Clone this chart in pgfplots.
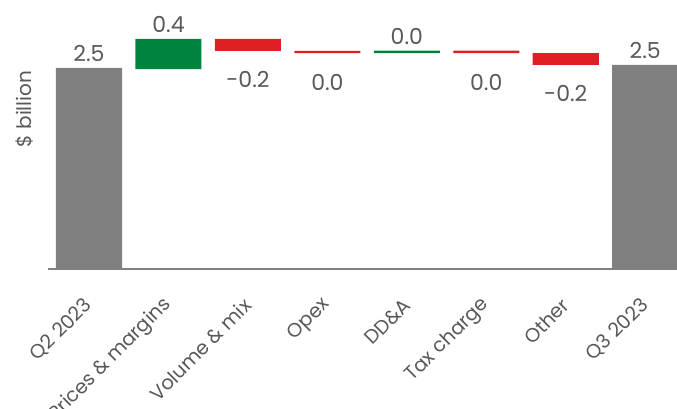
\documentclass[border=0pt]{standalone}
\usepackage{fontspec}
\setmainfont{Poppins}
\usepackage{pgfplots}
\pgfplotsset{compat=1.18}
\definecolor{barGray}{RGB}{128,128,128}
\definecolor{barGreen}{RGB}{0,132,61}
\definecolor{barRed}{RGB}{224,30,36}
\definecolor{txtGray}{RGB}{89,89,89}

\begin{document}
\begin{tikzpicture}
% 1pt = 1px of the reference picture
\path[use as bounding box] (-48pt,-139pt) rectangle (629pt,269pt);
\pgfplotsset{
    wfall/.style={
        scale only axis, width=629pt, height=269pt,
        xmin=-0.516, xmax=7.40,
        ymin=0, ymax=3.329,
    },
}
\begin{axis}[
    wfall,
    ybar stacked, bar width=0.831,
    axis x line=bottom, axis y line=none,
    axis line style={draw=barGray, line width=2pt, -},
    xtick={0,...,7},
    xticklabels={Q2 2023, Prices \& margins, Volume \& mix, Opex, DD\&A, Tax charge, Other, Q3 2023},
    major tick length=0pt,
    xticklabel style={yshift=-33pt, rotate=45, anchor=east, inner sep=0pt,
        font=\fontsize{19.5}{23}\selectfont, text=txtGray},
]
    % invisible base of each floating bar
    \addplot[fill=none, draw=none] coordinates
        {(0,0) (1,2.475) (2,2.698) (3,2.673) (4,2.673) (5,2.673) (6,2.525) (7,0)};
    % totals
    \addplot[fill=barGray, draw=none] coordinates
        {(0,2.49) (1,0) (2,0) (3,0) (4,0) (5,0) (6,0) (7,2.525)};
    % increases
    \addplot[fill=barGreen, draw=none] coordinates
        {(0,0) (1,0.372) (2,0) (3,0) (4,0.029) (5,0) (6,0) (7,0)};
    % decreases
    \addplot[fill=barRed, draw=none] coordinates
        {(0,0) (1,0) (2,0.149) (3,0.025) (4,0) (5,0.029) (6,0.148) (7,0)};
\end{axis}

% value labels and axis title
\begin{axis}[wfall, hide axis, clip=false]
    \addplot[draw=none, mark=none, nodes near coords, point meta=explicit symbolic,
        every node near coord/.append style={anchor=base, yshift=6.3pt, inner sep=0pt,
            font=\fontsize{22}{25}\selectfont, text=txtGray}]
        coordinates {(0,2.49)[2.5] (1,2.847)[0.4] (4,2.702)[0.0] (7,2.525)[2.5]};
    \addplot[draw=none, mark=none, nodes near coords, point meta=explicit symbolic,
        every node near coord/.append style={anchor=base, yshift=-37pt, inner sep=0pt,
            font=\fontsize{22}{25}\selectfont, text=txtGray}]
        coordinates {(2,2.698)[-0.2] (3,2.673)[0.0] (5,2.673)[0.0] (6,2.525)[-0.2]};
    \node[rotate=90, text=txtGray, font=\fontsize{20}{24}\selectfont]
        at (rel axis cs:-0.038,0.595) {\$ billion};
\end{axis}
\end{tikzpicture}
\end{document}
